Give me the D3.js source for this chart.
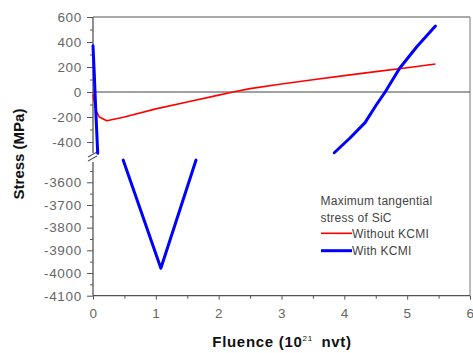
<!DOCTYPE html>
<html><head><meta charset="utf-8">
<script src="https://cdn.jsdelivr.net/npm/d3@7"></script>
<style>body{margin:0;background:#fff}svg{display:block}</style>
</head><body>
<script>
// ---- data ----
const xTicks = [0,1,2,3,4,5,6];
const yTopTicks = [600,400,200,0,-200,-400];
const yBotTicks = [-3600,-3700,-3800,-3900,-4000,-4100];
const redX = [0,0.05,0.1,0.22,0.5,1,1.5,2,2.23,2.5,3,3.5,4,4.5,5,5.45];
const redY = [-20,-150,-200,-230,-200,-135,-80,-25,0,27,64,98,131,163,194,224];
const blueAX = [0,0.02,0.04,0.075];
const blueAY = [370,150,-100,-490];
const blueBX = [0.48,1.08,1.64];
const blueBY = [-3502,-3979,-3502];
const blueCX = [3.84,4.09,4.33,4.5,4.65,4.88,5.15,5.45];
const blueCY = [-486,-368,-245,-110,0,190,360,528];
const legendTitle = ["Maximum tangential","stress of SiC"];
const seriesNames = ["Without KCMI","With KCMI"];

const W=473,H=353;
const svg=d3.select("body").append("svg").attr("width",W).attr("height",H);
const x=d3.scaleLinear().domain([0,6]).range([93,470]);
const yT=d3.scaleLinear().domain([-500,600]).range([154.5,17]);
const yB=d3.scaleLinear().domain([-4100,-3500]).range([295.7,159.6]);
const axisCol="#555", labCol="#666", font="Liberation Sans, Arial, sans-serif";
const fmt=d=>String(d);

// frame
svg.append("line").attr("x1",x(0)).attr("x2",x(6)).attr("y1",17).attr("y2",17).attr("stroke",axisCol).attr("stroke-width",1.2);
svg.append("line").attr("x1",x(6)).attr("x2",x(6)).attr("y1",17).attr("y2",295.7).attr("stroke","#777").attr("stroke-width",1);
// zero line
svg.append("line").attr("x1",x(0)).attr("x2",x(6)).attr("y1",yT(0)).attr("y2",yT(0)).attr("stroke","#444").attr("stroke-width",1.2);

function styleAxis(g){
  g.selectAll(".domain").remove();
  g.selectAll(".tick line").attr("stroke",axisCol);
  g.selectAll(".tick text").attr("fill",labCol).style("font-family",font).style("font-size","13.5px").style("letter-spacing","0.7px");
}
// y top axis
const gT=svg.append("g").attr("transform",`translate(${x(0)},0)`);
gT.call(d3.axisLeft(yT).tickValues(yTopTicks).tickSize(6).tickPadding(5).tickFormat(fmt));
styleAxis(gT);
const gTm=svg.append("g").attr("transform",`translate(${x(0)},0)`);
gTm.call(d3.axisLeft(yT).tickValues([500,300,100,-100,-300]).tickSize(3).tickFormat(""));
styleAxis(gTm);
// y bottom axis
const gB=svg.append("g").attr("transform",`translate(${x(0)},0)`);
gB.call(d3.axisLeft(yB).tickValues(yBotTicks).tickSize(6).tickPadding(5).tickFormat(fmt));
styleAxis(gB);
const gBm=svg.append("g").attr("transform",`translate(${x(0)},0)`);
gBm.call(d3.axisLeft(yB).tickValues([-3550,-3650,-3750,-3850,-3950,-4050]).tickSize(3).tickFormat(""));
styleAxis(gBm);
// y axis lines with break
svg.append("line").attr("x1",x(0)).attr("x2",x(0)).attr("y1",17).attr("y2",153).attr("stroke",axisCol).attr("stroke-width",1.3);
svg.append("line").attr("x1",x(0)).attr("x2",x(0)).attr("y1",162).attr("y2",295.7).attr("stroke",axisCol).attr("stroke-width",1.3);
[154.5,158.5].forEach(yy=>{
  svg.append("line").attr("x1",x(0)-5).attr("x2",x(0)+4).attr("y1",yy+2.5).attr("y2",yy-2.5).attr("stroke",axisCol).attr("stroke-width",1.1);
});
// x axis
const gX=svg.append("g").attr("transform",`translate(0,295.7)`);
gX.call(d3.axisBottom(x).tickValues(xTicks).tickSize(4).tickPadding(9).tickFormat(fmt));
styleAxis(gX);
const gXm=svg.append("g").attr("transform",`translate(0,295.7)`);
gXm.call(d3.axisBottom(x).tickValues([0.5,1.5,2.5,3.5,4.5,5.5]).tickSize(3).tickFormat(""));
styleAxis(gXm);
svg.append("line").attr("x1",x(0)).attr("x2",x(6)).attr("y1",295.7).attr("y2",295.7).attr("stroke",axisCol).attr("stroke-width",1.3);

// lines
const lineT=d3.line().x(d=>x(d[0])).y(d=>yT(d[1]));
const lineB=d3.line().x(d=>x(d[0])).y(d=>yB(d[1]));
svg.append("path").attr("d",lineT(redX.map((v,i)=>[v,redY[i]]))).attr("fill","none").attr("stroke","#ff0000").attr("stroke-width",1.6).attr("stroke-linejoin","round");
[[blueAX,blueAY,lineT],[blueBX,blueBY,lineB],[blueCX,blueCY,lineT]].forEach(([xs,ys,ln])=>{
  svg.append("path").attr("d",ln(xs.map((v,i)=>[v,ys[i]]))).attr("fill","none").attr("stroke","#0000ff").attr("stroke-width",3).attr("stroke-linejoin","round").attr("stroke-linecap","round");
});

// legend
const lg=svg.append("g").style("font-family",font).style("font-size","12px").style("letter-spacing","0.25px").attr("fill","#444");
lg.append("text").attr("x",320.5).attr("y",205).text(legendTitle[0]);
lg.append("text").attr("x",320.5).attr("y",221.5).text(legendTitle[1]);
svg.append("line").attr("x1",321).attr("x2",352).attr("y1",233.3).attr("y2",233.3).attr("stroke","#ff0000").attr("stroke-width",1.6);
lg.append("text").attr("x",352).attr("y",238).text(seriesNames[0]);
svg.append("line").attr("x1",321).attr("x2",352).attr("y1",250.7).attr("y2",250.7).attr("stroke","#0000ff").attr("stroke-width",3);
lg.append("text").attr("x",352).attr("y",255).text(seriesNames[1]);

// titles
const xt=svg.append("text").attr("x",282).attr("y",347).attr("text-anchor","middle").style("font-family",font).style("font-size","15px").style("font-weight","bold").style("letter-spacing","0.7px").attr("fill","#111");
xt.append("tspan").text("Fluence (10");
xt.append("tspan").attr("dy",-6).style("font-size","8px").style("font-weight","normal").text("21");
xt.append("tspan").attr("dy",6).text("\u2009 nvt)");
svg.append("text").attr("transform","translate(24,154) rotate(-90)").attr("text-anchor","middle").style("font-family",font).style("font-size","15px").style("font-weight","bold").attr("fill","#111").text("Stress (MPa)");
</script>
</body></html>
